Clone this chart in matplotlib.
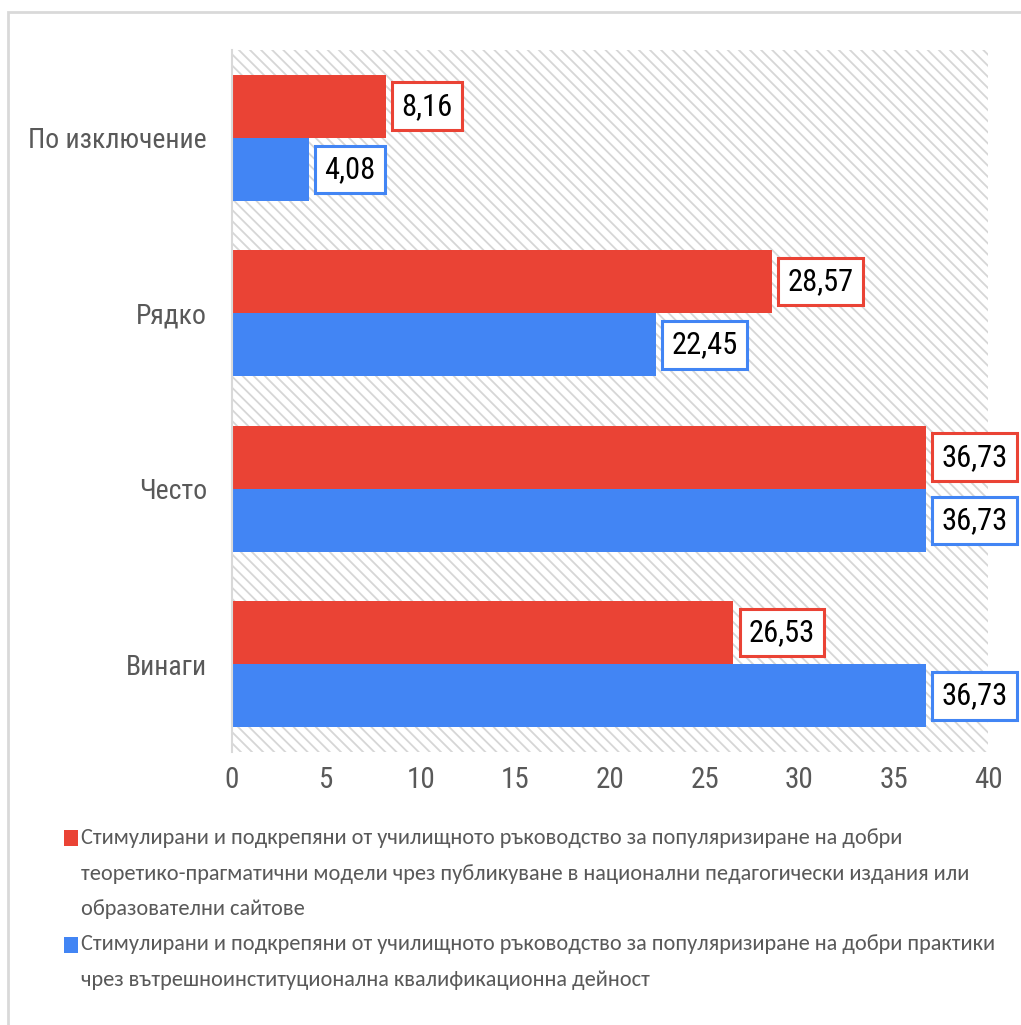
import matplotlib.pyplot as plt
from matplotlib.patches import Rectangle
import numpy as np

categories = ['Винаги', 'Често', 'Рядко', 'По изключение']
theory_models = [26.53, 36.73, 28.57, 8.16]
internal_practice = [36.73, 36.73, 22.45, 4.08]
x_ticks = [0, 5, 10, 15, 20, 25, 30, 35, 40]
legend_labels = [
    'Стимулирани и подкрепяни от училищното ръководство за популяризиране на добри\n'
    'теоретико-прагматични модели чрез публикуване в национални педагогически издания или\n'
    'образователни сайтове',
    'Стимулирани и подкрепяни от училищното ръководство за популяризиране на добри практики\n'
    'чрез вътрешноинституционална квалификационна дейност',
]

RED = '#EA4335'
BLUE = '#4285F4'
GREY_TXT = '#595959'
GRID = '#d9d9d9'

plt.rcParams['font.family'] = ['Roboto Condensed', 'IBM Plex Sans Condensed', 'Fira Sans Condensed', 'DejaVu Sans']
plt.rcParams['hatch.linewidth'] = 1.3
plt.rcParams['hatch.color'] = '#d6d6d6'

fig = plt.figure(figsize=(10.21, 10.25), dpi=100)
ax = fig.add_axes([232 / 1021, 1 - 752 / 1025, 756 / 1021, 702 / 1025])

# outer chart frame
fig.patches.append(Rectangle((8 / 1021, -0.1), 1.2, 1 - 12 / 1025 + 0.1, transform=fig.transFigure,
                             fill=False, edgecolor=GRID, linewidth=2))

# hatched plot background
ax.add_patch(Rectangle((0, 0), 1, 1, transform=ax.transAxes, facecolor='white',
                       hatch='\\\\\\', edgecolor='#d6d6d6', linewidth=0, zorder=0))

y = np.arange(len(categories))
h = 0.36
bars_r = ax.barh(y + h / 2, theory_models, height=h, color=RED, zorder=2)
bars_b = ax.barh(y - h / 2, internal_practice, height=h, color=BLUE, zorder=2)

for bars, vals, col in [(bars_r, theory_models, RED), (bars_b, internal_practice, BLUE)]:
    for b, v in zip(bars, vals):
        ax.annotate(f'{v:.2f}'.replace('.', ','), (v, b.get_y() + b.get_height() / 2),
                    xytext=(11, 0), textcoords='offset points', ha='left', va='center',
                    fontsize=22, color='black', annotation_clip=False, zorder=3,
                    bbox=dict(boxstyle='square,pad=0.3', facecolor='white', edgecolor=col, linewidth=2.2))

ax.set_xlim(0, 40)
ax.set_ylim(-0.5, len(categories) - 0.5)
ax.set_xticks(x_ticks)
ax.set_xticklabels([str(t) for t in x_ticks])
ax.set_yticks(y)
ax.set_yticklabels(categories)
ax.tick_params(axis='x', length=0, pad=10, labelsize=21, labelcolor=GREY_TXT)
ax.tick_params(axis='y', length=0, pad=18, labelsize=20, labelcolor=GREY_TXT)
for s in ['top', 'right', 'bottom']:
    ax.spines[s].set_visible(False)
ax.spines['left'].set_color(GRID)
ax.spines['left'].set_linewidth(1.5)

# legend drawn by hand, one text per line, marker on the first line
line_step = 35.5
first_line = 838
row = 0
for lab, col in zip(legend_labels, [RED, BLUE]):
    ypx = first_line + row * line_step
    fig.patches.append(Rectangle((64 / 1021, 1 - (ypx + 8) / 1025), 14 / 1021, 16 / 1025,
                                 transform=fig.transFigure, facecolor=col, edgecolor='none'))
    for line in lab.split('\n'):
        ypx = first_line + row * line_step
        fig.text(81 / 1021, 1 - ypx / 1025, line, ha='left', va='center', fontsize=16.1,
                 color=GREY_TXT, family=['Carlito', 'DejaVu Sans'])
        row += 1

fig.savefig('out.png', dpi=100)
